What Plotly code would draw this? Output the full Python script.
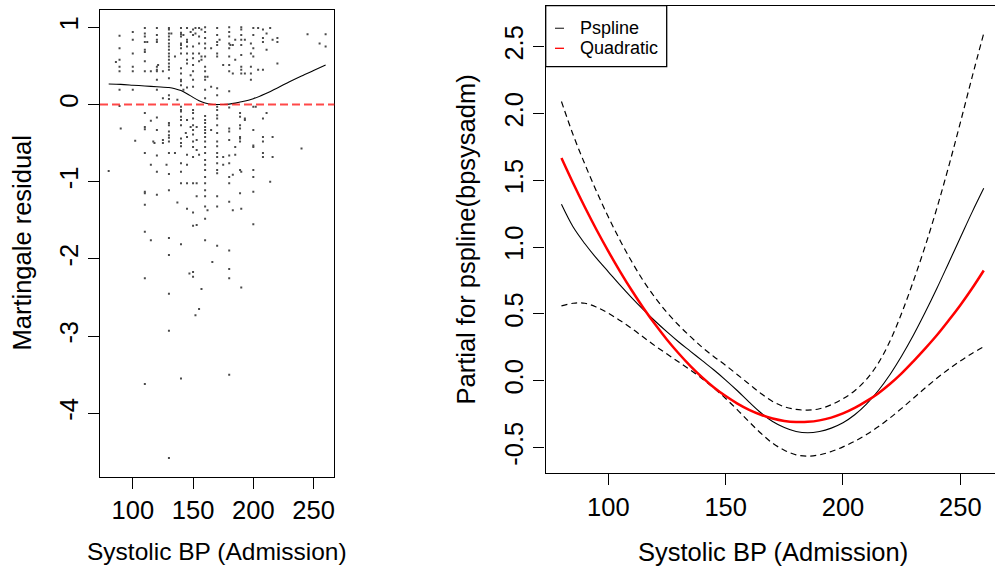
import plotly.graph_objects as go

# ---------------- Left panel data: martingale residuals ----------------
# BP columns (Systolic BP at admission) and residuals read at each column
resid_bp_columns = [80, 86, 89, 90, 100, 102, 110, 112, 115, 117, 118, 120, 121, 125, 128,
                    130, 132, 135, 137, 140, 142, 144, 145, 147, 148, 150, 152, 153, 155, 157,
                    160, 162, 165, 166, 170, 172, 175, 180, 181, 183, 185, 189, 190, 193, 198,
                    200, 202, 204, 208, 211, 214, 216, 220, 240, 245, 255, 260]
resid_by_column = [
    [-0.86],
    [0.55],
    [0.89, 0.73, 0.58, 0.49, 0.43, 0.19, -0.02],
    [-0.31],
    [0.94, 0.84, 0.66, 0.49, 0.43, 0.19],
    [-0.47],
    [0.99, 0.92, 0.88, 0.81, 0.71, 0.68, 0.56, 0.43, -0.11, -0.29, -0.32, -0.63, -1.13, -1.15,
     -1.30, -1.65, -2.25, -3.62],
    [0.81],
    [0.43, -0.21, -0.78, -1.76],
    [-0.48],
    [-0.50],
    [0.99, 0.90, 0.84, 0.81, 0.49, 0.45, 0.43, 0.32, 0.19, -0.17, -0.33, -0.66, -0.87, -1.17],
    [0.51],
    [0.43, 0.08, -0.46, -0.50],
    [-0.78],
    [0.99, 0.97, 0.92, 0.88, 0.84, 0.79, 0.75, 0.71, 0.66, 0.62, 0.58, 0.53, 0.49, 0.45, 0.34,
     0.12, 0.07, -0.24, -0.27, -0.35, -0.40, -0.43, -0.48, -0.63, -0.90, -1.11, -1.73, -1.95,
     -2.45, -2.93, -4.58],
    [0.92],
    [0.62, -0.63],
    [0.06, -1.27],
    [0.99, 0.93, 0.91, 0.88, 0.79, 0.77, 0.73, 0.66, 0.47, 0.40, 0.32, 0.30, 0.25, -0.03, -0.07,
     -0.09, -0.16, -0.20, -0.27, -0.44, -0.50, -0.54, -0.76, -0.87, -1.02, -1.81, -3.55],
    [0.90, 0.19],
    [-0.37],
    [0.99, 0.84, 0.81, 0.75, 0.66, 0.58, 0.53, 0.22, -0.20, -0.42, -0.65, -0.78, -1.02, -1.35],
    [-2.19],
    [0.94, 0.38, -0.29],
    [0.97, 0.90, 0.75, 0.66, 0.60, 0.51, 0.43, 0.32, 0.23, -0.07, -0.11, -0.18, -0.27, -0.33,
     -0.39, -0.48, -0.55, -0.68, -1.02, -1.40, -1.57, -2.17, -2.23],
    [0.99, 0.92, -2.73],
    [-0.29, -0.46, -0.59, -1.02, -1.19, -1.56],
    [0.99, 0.88, 0.79, 0.66, 0.56, -0.65, -2.65],
    [0.97, 0.62, 0.58, -2.39],
    [1.00, 0.94, 0.86, 0.79, 0.73, 0.62, 0.49, 0.43, 0.36, 0.32, 0.19, 0.08, -0.15, -0.20, -0.24,
     -0.29, -0.33, -0.37, -0.42, -0.48, -0.55, -0.63, -0.72, -0.78, -0.85, -0.94, -1.02, -1.11,
     -1.19, -1.32, -1.48, -1.76],
    [0.36, -1.37],
    [0.73, 0.23, -0.33],
    [-2.04],
    [0.99, 0.90, 0.81, 0.77, 0.66, 0.62, 0.21, 0.12, -0.03, -0.07, -0.14, -0.18, -0.27, -0.37,
     -0.48, -0.54, -0.63, -0.68, -0.76, -0.85, -0.89, -1.19, -1.32, -1.83],
    [0.84],
    [0.51, -0.68, -0.78],
    [1.00, 0.94, 0.88, 0.79, 0.73, 0.62, 0.51, 0.43, 0.17, -0.04, -0.31, -0.35, -0.46, -0.66,
     -0.76, -0.94, -1.02, -1.26, -1.89, -2.13, -2.25, -3.50],
    [0.77],
    [0.77, 0.40, -0.91, -1.37],
    [0.84, 0.58, -0.55, -0.65],
    [-0.11, -0.16, -0.27, -0.31, -0.42, -0.44, -0.48, -0.85, -1.15],
    [1.00, 0.97, 0.90, 0.84, 0.77, 0.64, 0.49, 0.45, 0.40, -0.87, -1.35, -2.37],
    [0.84, 0.40, -0.18, -0.20],
    [0.79, 0.66, 0.49, 0.40, 0.32],
    [0.99, 0.90, 0.73, 0.62, -0.03, -0.33, -0.53, -0.55, -0.85, -0.94, -1.13, -1.55],
    [-0.03],
    [0.99, 0.45],
    [0.97, 0.86, 0.81, 0.45, -0.18, -0.42, -0.48, -0.63, -0.68],
    [0.92, 0.71, -0.11],
    [0.99, -1.00],
    [0.84, -0.42, -0.68],
    [0.86, 0.81, 0.53],
    [-0.57],
    [0.91],
    [0.79],
    [0.91, 0.75],
]

# lowess smooth of the residuals
smooth_bp = [80, 90, 100, 110, 120, 130, 135, 140, 145, 150, 155, 160, 165, 170, 175, 180,
             185, 190, 200, 210, 220, 230, 240, 250, 260]
smooth_resid = [0.265, 0.26, 0.25, 0.24, 0.23, 0.22, 0.205, 0.18, 0.14, 0.092, 0.05, 0.02,
                0.004, 0.0, 0.0, 0.005, 0.018, 0.035, 0.075, 0.14, 0.215, 0.295, 0.37, 0.44,
                0.51]

# ---------------- Right panel data: pspline term ----------------
term_bp = [80, 85, 90, 95, 100, 105, 110, 115, 120, 125, 130, 135, 140, 145, 150, 155, 160,
           165, 170, 175, 180, 185, 190, 195, 200, 205, 210, 215, 220, 225, 230, 235, 240,
           245, 250, 255, 260]
pspline_fit = [1.32, 1.15, 1.025, 0.915, 0.815, 0.715, 0.62, 0.53, 0.445, 0.365, 0.29, 0.22,
               0.15, 0.08, 0.005, -0.075, -0.16, -0.24, -0.305, -0.35, -0.38, -0.39, -0.38,
               -0.355, -0.315, -0.255, -0.175, -0.075, 0.045, 0.185, 0.34, 0.51, 0.69, 0.88,
               1.07, 1.26, 1.44]
pspline_upper = [2.09, 1.84, 1.62, 1.415, 1.225, 1.05, 0.89, 0.745, 0.62, 0.51, 0.415, 0.33,
                 0.25, 0.18, 0.115, 0.045, -0.025, -0.095, -0.155, -0.195, -0.215, -0.22,
                 -0.21, -0.18, -0.135, -0.075, 0.01, 0.13, 0.295, 0.505, 0.745, 1.005, 1.29,
                 1.60, 1.93, 2.27, 2.60]
pspline_lower = [0.56, 0.58, 0.58, 0.55, 0.505, 0.45, 0.39, 0.325, 0.26, 0.20, 0.14, 0.08,
                 0.015, -0.055, -0.133, -0.218, -0.308, -0.393, -0.468, -0.52, -0.555, -0.565,
                 -0.555, -0.53, -0.495, -0.453, -0.403, -0.345, -0.279, -0.207, -0.131, -0.055,
                 0.018, 0.086, 0.148, 0.204, 0.254]
quadratic_fit = [1.667, 1.478, 1.298, 1.128, 0.968, 0.817, 0.675, 0.543, 0.42, 0.307, 0.204,
                 0.11, 0.025, -0.05, -0.115, -0.171, -0.218, -0.255, -0.283, -0.301, -0.309,
                 -0.308, -0.297, -0.276, -0.245, -0.204, -0.153, -0.095, -0.025, 0.055, 0.145,
                 0.24, 0.34, 0.45, 0.565, 0.69, 0.825]

x_ticks = [100, 150, 200, 250]
left_y_ticks = [-4, -3, -2, -1, 0, 1]
left_y_labels = ["-4", "-3", "-2", "-1", "0", "1"]
right_y_ticks = [-0.5, 0.0, 0.5, 1.0, 1.5, 2.0, 2.5]
right_y_labels = ["-0.5", "0.0", "0.5", "1.0", "1.5", "2.0", "2.5"]

legend_labels = ["Pspline", "Quadratic"]
x_title = "Systolic BP (Admission)"
left_y_title = "Martingale residual"
right_y_title = "Partial for pspline(bpsysadm)"

# ---------------- build figure ----------------
W, H = 995, 568
FONT = "Arial, Liberation Sans, sans-serif"
FS = 25.5


def px_x(p):
    return p / W


def px_y(p):
    return 1 - p / H


scatter_x, scatter_y = [], []
for bp, vals in zip(resid_bp_columns, resid_by_column):
    for v in vals:
        scatter_x.append(bp)
        scatter_y.append(v)

fig = go.Figure()

fig.add_trace(go.Scatter(x=scatter_x, y=scatter_y, mode="markers",
                         marker=dict(symbol="square", size=2, color="#4a4a4a",
                                     line=dict(width=0)),
                         xaxis="x", yaxis="y", showlegend=False, hoverinfo="skip"))
fig.add_trace(go.Scatter(x=smooth_bp, y=smooth_resid, mode="lines",
                         line=dict(color="black", width=1.1, shape="spline", smoothing=0.8),
                         xaxis="x", yaxis="y", showlegend=False))

dash = "6px,4px"
fig.add_trace(go.Scatter(x=term_bp, y=pspline_upper, mode="lines", name="upper",
                         line=dict(color="black", width=1.2, dash=dash, shape="spline"),
                         xaxis="x2", yaxis="y2", showlegend=False))
fig.add_trace(go.Scatter(x=term_bp, y=pspline_lower, mode="lines", name="lower",
                         line=dict(color="black", width=1.2, dash=dash, shape="spline"),
                         xaxis="x2", yaxis="y2", showlegend=False))
fig.add_trace(go.Scatter(x=term_bp, y=pspline_fit, mode="lines", name=legend_labels[0],
                         line=dict(color="black", width=1.1, shape="spline"),
                         xaxis="x2", yaxis="y2", showlegend=False))
fig.add_trace(go.Scatter(x=term_bp, y=quadratic_fit, mode="lines", name=legend_labels[1],
                         line=dict(color="#FF0000", width=2.5, shape="spline"),
                         xaxis="x2", yaxis="y2", showlegend=False))

axis_common = dict(showline=True, linecolor="black", linewidth=1.3, ticks="outside",
                   ticklen=11, tickwidth=1.3, tickcolor="black", showgrid=False,
                   zeroline=False, tickfont=dict(family=FONT, size=FS, color="black"))

fig.update_layout(
    width=W, height=H, margin=dict(l=0, r=0, t=0, b=0),
    paper_bgcolor="white", plot_bgcolor="white",
    xaxis=dict(domain=[px_x(100), px_x(334.3)], range=[72.8, 267.2], anchor="y",
               tickvals=x_ticks, mirror=True, **axis_common),
    yaxis=dict(domain=[px_y(476.6), px_y(10.3)], range=[-4.82, 1.22], anchor="x",
               tickvals=left_y_ticks, ticktext=left_y_labels, tickangle=-90, mirror=True,
               **axis_common),
    xaxis2=dict(domain=[px_x(545.5), 1.0], range=[73.2, 264.8], anchor="y2",
                tickvals=x_ticks, mirror=True, **axis_common),
    yaxis2=dict(domain=[px_y(473.3), px_y(5.7)], range=[-0.693, 2.807], anchor="x2",
                tickvals=right_y_ticks, ticktext=right_y_labels, tickangle=-90,
                mirror=False, **axis_common),
)

# red dashed zero line
fig.add_shape(type="line", xref="x domain", yref="y", x0=0, x1=1, y0=0, y1=0,
              line=dict(color="rgba(255,40,40,0.85)", width=1.8, dash="8px,4px"))

# titles
fig.add_annotation(text=x_title, xref="paper", yref="paper", x=px_x(217.2), y=px_y(551.7),
                   showarrow=False, xanchor="center", yanchor="middle",
                   font=dict(family=FONT, size=24.5, color="black"))
fig.add_annotation(text=x_title, xref="paper", yref="paper", x=px_x(772.9), y=px_y(551.7),
                   showarrow=False, xanchor="center", yanchor="middle",
                   font=dict(family=FONT, size=FS, color="black"))
fig.add_annotation(text=left_y_title, xref="paper", yref="paper", x=px_x(22), y=px_y(243.5),
                   showarrow=False, xanchor="center", yanchor="middle", textangle=-90,
                   font=dict(family=FONT, size=FS, color="black"))
fig.add_annotation(text=right_y_title, xref="paper", yref="paper", x=px_x(466), y=px_y(239.5),
                   showarrow=False, xanchor="center", yanchor="middle", textangle=-90,
                   font=dict(family=FONT, size=FS, color="black"))

# legend box (drawn like R's legend)
fig.add_shape(type="rect", xref="paper", yref="paper", x0=px_x(545.7), x1=px_x(666.7),
              y0=px_y(66.7), y1=px_y(5.7), line=dict(color="black", width=1.3),
              fillcolor="white", layer="above")
fig.add_shape(type="line", xref="paper", yref="paper", x0=px_x(555), x1=px_x(564),
              y0=px_y(28.3), y1=px_y(28.3), line=dict(color="#444444", width=1.3))
fig.add_shape(type="line", xref="paper", yref="paper", x0=px_x(555), x1=px_x(564),
              y0=px_y(48.3), y1=px_y(48.3), line=dict(color="#FF0000", width=1.3))
fig.add_annotation(text=legend_labels[0], xref="paper", yref="paper", x=px_x(578),
                   y=px_y(28.3), showarrow=False, xanchor="left", yanchor="middle",
                   font=dict(family=FONT, size=18, color="black"))
fig.add_annotation(text=legend_labels[1], xref="paper", yref="paper", x=px_x(578),
                   y=px_y(48.3), showarrow=False, xanchor="left", yanchor="middle",
                   font=dict(family=FONT, size=18, color="black"))

fig.write_html("out.html")
